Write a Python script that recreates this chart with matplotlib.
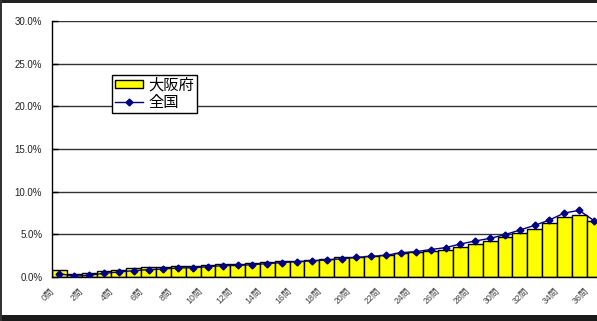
import matplotlib
matplotlib.use("Agg")
import matplotlib.pyplot as plt
import matplotlib.transforms as mtransforms
from matplotlib.patches import Rectangle
from matplotlib.lines import Line2D
from matplotlib.ticker import FuncFormatter, MultipleLocator

plt.rcParams['font.family'] = ['Liberation Sans', 'Noto Sans CJK JP', 'DejaVu Sans']

# Number of correct answers (0問 ... 36問)
categories = [f"{i}問" for i in range(37)]

# Share of examinees (%) per score
osaka = [0.8, 0.35, 0.5, 0.7, 0.8, 1.1, 1.2, 1.2, 1.25, 1.33,
         1.45, 1.55, 1.55, 1.68, 1.72, 1.85, 1.93, 2.0, 2.1, 2.34,
         2.34, 2.46, 2.55, 2.8, 2.9, 3.0, 3.2, 3.52, 3.87, 4.22,
         4.65, 5.16, 5.63, 6.37, 7.03, 7.23, 6.56]
national = [0.39, 0.1, 0.2, 0.43, 0.59, 0.74, 0.86, 0.94, 1.06, 1.08,
            1.21, 1.33, 1.35, 1.45, 1.57, 1.69, 1.8, 1.9, 2.0, 2.14,
            2.3, 2.42, 2.54, 2.85, 2.97, 3.22, 3.44, 3.87, 4.22, 4.53,
            4.96, 5.5, 6.05, 6.68, 7.5, 7.81, 6.6]

series_names = ["大阪府", "全国"]

W, H = 597, 321
fig = plt.figure(figsize=(W / 100, H / 100), dpi=100)

# plot area runs past the right edge of the canvas
left_px, top_px, bottom_px = 52, 21, 277
cat_w = 14.85
n_slots = 41
ax = fig.add_axes([left_px / W, (H - bottom_px) / H,
                   n_slots * cat_w / W, (bottom_px - top_px) / H])

x = list(range(len(categories)))
ax.bar(x, osaka, width=1.0, color="#FFFF00", edgecolor="black",
       linewidth=1.0, zorder=2)
ax.plot(x, national, color="#000080", linewidth=1.0, marker="D",
        markersize=3.5, markerfacecolor="#000080", markeredgecolor="#000080",
        zorder=3)

ax.set_xlim(-0.5, n_slots - 0.5)
ax.set_ylim(0, 30)
ax.yaxis.set_major_locator(MultipleLocator(5))
ax.yaxis.set_major_formatter(FuncFormatter(lambda v, p: f"{v:.1f}%"))
ax.grid(axis="y", color="#333333", linewidth=1.0, zorder=0)
ax.set_axisbelow(True)

ax.set_xticks(x[::2])
ax.set_xticklabels(categories[::2], rotation=45, ha="right", va="center",
                   rotation_mode="anchor", fontsize=6.3, color="#444444")
ax.tick_params(axis="x", length=0, pad=9)
shift = mtransforms.ScaledTranslation(-7 / 100, 0, fig.dpi_scale_trans)
for lab in ax.get_xticklabels():
    lab.set_transform(lab.get_transform() + shift)

ax.tick_params(axis="y", direction="in", length=4, width=1, labelsize=7,
               pad=7, colors="black")
for lab in ax.get_yticklabels():
    lab.set_color("#222222")

for side in ("top", "right"):
    ax.spines[side].set_visible(False)
ax.spines["left"].set_color("black")
ax.spines["left"].set_linewidth(1.0)
ax.spines["bottom"].set_color("black")
ax.spines["bottom"].set_linewidth(1.0)

handles = [Rectangle((0, 0), 1, 1, facecolor="#FFFF00", edgecolor="black", linewidth=1.0),
           Line2D([], [], color="#000080", linewidth=1.0, marker="D",
                  markersize=3.5, markerfacecolor="#000080")]
leg = fig.legend(handles, series_names, loc="upper left",
                 bbox_to_anchor=(111.5 / W, 1 - 75 / H),
                 bbox_transform=fig.transFigure, fontsize=11,
                 frameon=True, fancybox=False, edgecolor="black",
                 framealpha=1.0, borderpad=0.2, handlelength=1.85,
                 handleheight=0.5, handletextpad=0.35, labelspacing=0.25,
                 borderaxespad=0)
leg.get_frame().set_linewidth(1.0)

# dark frame around the canvas
fig.patches.append(Rectangle((0, 1 - 3 / H), 1, 3 / H, transform=fig.transFigure,
                             facecolor="#222222", edgecolor="none", zorder=10))
fig.patches.append(Rectangle((0, 0), 1, 6 / H, transform=fig.transFigure,
                             facecolor="#1a1a1a", edgecolor="none", zorder=10))
fig.patches.append(Rectangle((0, 0), 1.5 / W, 1, transform=fig.transFigure,
                             facecolor="#333333", edgecolor="none", zorder=10))

fig.savefig("out.png", dpi=100)
